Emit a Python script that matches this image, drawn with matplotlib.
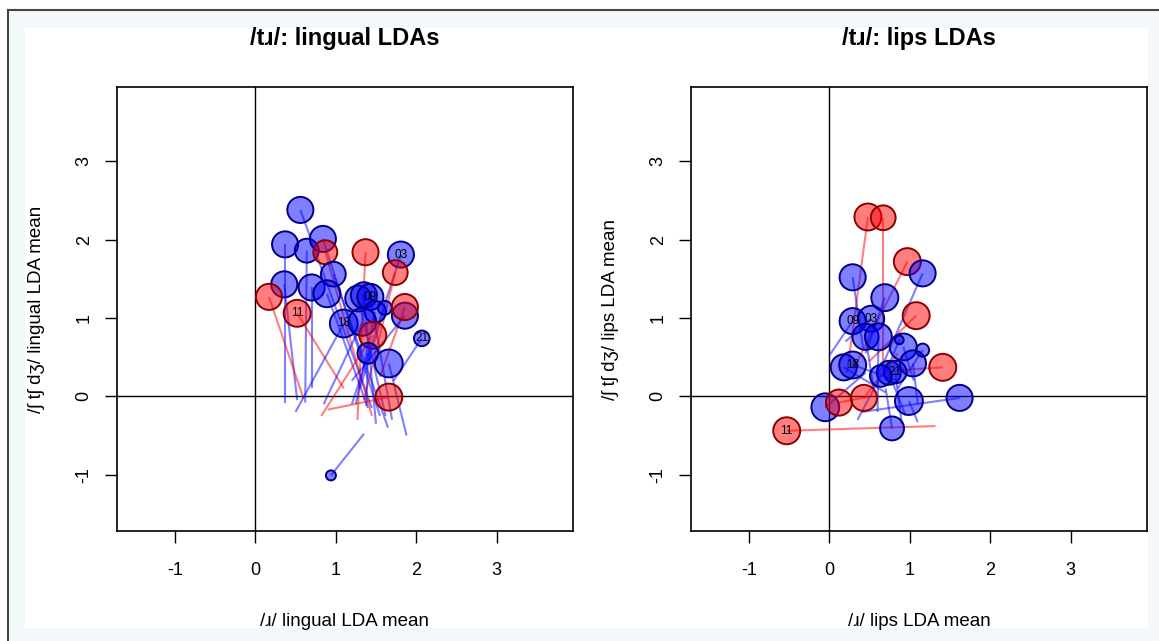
import matplotlib
matplotlib.use("Agg")
import matplotlib.pyplot as plt
from matplotlib.patches import Rectangle
from matplotlib.lines import Line2D

plt.rcParams['font.family'] = ['Liberation Sans', 'DejaVu Sans']
plt.rcParams['axes.unicode_minus'] = False

# ---- lingual LDA panel: speaker means (x, y), line end points, bubble size (cex), group
lin_x  = [0.56, 0.37, 0.64, 0.84, 0.87, 1.37, 1.81, 1.74, 0.97, 0.36, 0.70, 0.89, 0.17, 0.52, 1.28,
          1.35, 1.43, 1.49, 1.61, 1.86, 1.86, 1.10, 1.33, 1.46, 1.40, 1.66, 1.66, 2.07, 0.94]
lin_y  = [2.38, 1.94, 1.86, 2.01, 1.84, 1.84, 1.81, 1.58, 1.56, 1.43, 1.39, 1.31, 1.27, 1.06, 1.25,
          1.29, 1.27, 1.08, 1.13, 1.03, 1.14, 0.93, 0.95, 0.78, 0.55, 0.42, -0.01, 0.74, -1.01]
lin_ex = [1.45, 0.37, 0.62, 1.55, 1.45, 1.27, 1.20, 1.35, 1.65, 0.52, 0.70, 1.40, 0.60, 1.10, 1.62,
          1.50, 1.70, 1.25, 1.30, 1.20, 1.55, 0.50, 0.85, 0.82, 1.38, 1.88, 0.90, 1.72, 1.35]
lin_ey = [-0.15, -0.08, -0.08, -0.25, -0.25, -0.30, -0.10, -0.05, -0.40, -0.05, 0.10, -0.15, -0.03, 0.10, -0.25,
          -0.35, -0.30, -0.10, 0.10, 0.20, 0.25, -0.20, -0.10, -0.25, -0.12, -0.50, -0.17, 0.20, -0.48]
lin_cex = [3.0, 3.0, 2.75, 3.0, 2.75, 3.0, 3.0, 2.85, 2.85, 3.0, 3.0, 3.1, 3.0, 3.1, 3.0,
           3.0, 3.0, 2.5, 1.6, 3.0, 3.0, 3.2, 3.2, 3.1, 2.4, 3.2, 3.1, 1.8, 1.15]
lin_grp = ['b', 'b', 'b', 'b', 'r', 'r', 'b', 'r', 'b', 'b', 'b', 'b', 'r', 'r', 'b',
           'b', 'b', 'b', 'b', 'b', 'r', 'b', 'b', 'r', 'b', 'b', 'r', 'b', 'b']
lin_lab = ['', '', '', '', '', '', '03', '', '', '', '', '', '', '11', '',
           '', '09', '', '', '', '', '18', '', '', '', '', '', '21', '']

# ---- lips LDA panel
lip_x  = [0.48, 0.67, 0.97, 1.16, 0.29, 0.69, 1.08, 0.29, 0.52, 0.45, 0.61, 0.92, 0.87, 1.16,
          1.04, 1.41, 0.18, 0.29, 0.74, 0.82, 0.64, 0.99, 1.62, -0.05, 0.12, 0.43, 0.78, -0.53]
lip_y  = [2.29, 2.28, 1.72, 1.57, 1.52, 1.26, 1.03, 0.96, 0.99, 0.76, 0.76, 0.63, 0.72, 0.59,
          0.42, 0.37, 0.37, 0.40, 0.30, 0.31, 0.26, -0.06, -0.02, -0.14, -0.08, -0.02, -0.41, -0.44]
lip_ex = [0.22, 0.67, 0.30, 0.62, 0.42, 0.45, 0.50, 0.00, 0.20, 0.55, 0.60, 1.05, 0.70, 0.85,
          1.10, 0.80, 0.70, 0.85, 0.95, 0.90, 0.35, 1.10, 0.40, 0.45, 0.50, 0.85, 0.70, 1.32]
lip_ey = [0.30, 0.25, 0.35, 0.30, 0.62, 0.55, 0.45, 0.52, 0.70, 0.10, -0.20, 0.20, 0.30, 0.10,
          -0.10, 0.33, 0.05, 0.20, -0.25, -0.35, -0.30, -0.33, -0.20, 0.30, 0.00, 0.55, 0.10, -0.38]
lip_cex = [3.1, 2.85, 3.1, 3.0, 3.0, 3.1, 3.1, 3.0, 3.0, 3.0, 3.1, 3.1, 1.0, 1.5,
           3.0, 3.1, 3.0, 3.1, 2.75, 2.6, 2.5, 3.2, 3.0, 3.2, 3.0, 3.0, 2.75, 3.1]
lip_grp = ['r', 'r', 'r', 'b', 'b', 'b', 'r', 'b', 'b', 'b', 'b', 'b', 'b', 'b',
           'b', 'r', 'b', 'b', 'b', 'b', 'b', 'b', 'b', 'b', 'r', 'r', 'b', 'r']
lip_lab = ['', '', '', '', '', '', '', '09', '03', '', '', '', '', '',
           '', '', '', '18', '', '21', '', '', '', '', '', '', '', '11']

ticks = [-1, 0, 1, 2, 3]
lims = (-1.72, 3.95)

fill = {'b': (0, 0, 1, 0.5), 'r': (1, 0, 0, 0.5)}
edge = {'b': '#00008B', 'r': '#8B0000'}
seg = {'b': (0, 0, 1, 0.5), 'r': (1, 0, 0, 0.5)}

W, H = 1159, 641
fig = plt.figure(figsize=(W / 100, H / 100), dpi=100)
fig.patch.set_facecolor('white')

# screenshot frame
fig.add_artist(Rectangle((8 / W, 0), 1, 1 - 10 / H, transform=fig.transFigure,
                         facecolor='#f3f8fb', edgecolor='none', zorder=-3))
fig.add_artist(Rectangle((25 / W, 1 - 628 / H), (1148 - 25) / W, (628 - 28) / H,
                         transform=fig.transFigure, facecolor='white', edgecolor='none', zorder=-2))
fig.add_artist(Line2D([8 / W, 1], [1 - 10 / H, 1 - 10 / H], transform=fig.transFigure,
                      color='#444444', lw=1.5))
fig.add_artist(Line2D([8 / W, 8 / W], [0, 1 - 10 / H], transform=fig.transFigure,
                      color='#444444', lw=1.5))

panels = [
    (117, '/tɹ/: lingual LDAs', '/ɹ/ lingual LDA mean', '/ʃ tʃ dʒ/ lingual LDA mean',
     lin_x, lin_y, lin_ex, lin_ey, lin_cex, lin_grp, lin_lab),
    (691, '/tɹ/: lips LDAs', '/ɹ/ lips LDA mean', '/ʃ tʃ dʒ/ lips LDA mean',
     lip_x, lip_y, lip_ex, lip_ey, lip_cex, lip_grp, lip_lab),
]

for left, title, xlab, ylab, xs, ys, exs, eys, cex, grp, lab in panels:
    ax = fig.add_axes([left / W, 1 - 531 / H, 456 / W, 444 / H])
    ax.set_xlim(lims)
    ax.set_ylim(lims)
    ax.axhline(0, color='black', lw=1.0, zorder=1)
    ax.axvline(0, color='black', lw=1.0, zorder=1)
    for x, y, ex, ey, g in zip(xs, ys, exs, eys, grp):
        ax.plot([x, ex], [y, ey], color=seg[g], lw=1.5, zorder=2, solid_capstyle='butt')
    sizes = [(cex_i * 4.35 * 1.44) ** 2 for cex_i in cex]
    ax.scatter(xs, ys, s=sizes, c=[fill[g] for g in grp], edgecolors=[edge[g] for g in grp],
               linewidths=1.4, zorder=3)
    for x, y, t in zip(xs, ys, lab):
        if t:
            ax.text(x, y, t, fontsize=8.5, ha='center', va='center', zorder=4)
    ax.set_xticks(ticks)
    ax.set_yticks(ticks)
    ax.set_xticklabels([str(t) for t in ticks])
    ax.set_yticklabels([str(t) for t in ticks])
    ax.tick_params(length=8.5, width=1.0, labelsize=13)
    ax.tick_params(axis='x', pad=14)
    ax.tick_params(axis='y', pad=9, labelrotation=90)
    for lbl in ax.get_yticklabels():
        lbl.set_va('center')
    for sp in ax.spines.values():
        sp.set_linewidth(1.2)
    ax.set_title(title, fontsize=17, fontweight='bold', pad=30)
    ax.set_xlabel(xlab, fontsize=13.5, labelpad=24)
    ax.set_ylabel(ylab, fontsize=13.5, labelpad=22)

fig.savefig('out.png', dpi=100)
